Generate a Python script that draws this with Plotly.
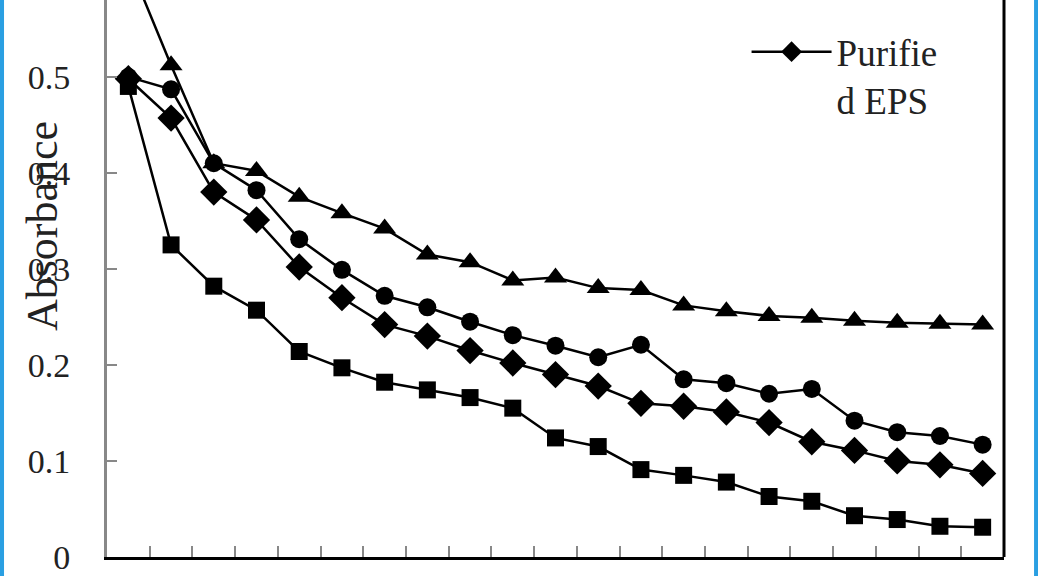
import plotly.graph_objects as go

categories = [str(i) for i in range(1, 22)]

circle_vals = [0.500, 0.487, 0.410, 0.382, 0.331, 0.299, 0.272, 0.260, 0.245, 0.231, 0.220, 0.208, 0.221, 0.185, 0.181, 0.170, 0.175, 0.142, 0.130, 0.126, 0.117]
diamond_vals = [0.498, 0.457, 0.380, 0.351, 0.302, 0.270, 0.242, 0.230, 0.215, 0.202, 0.190, 0.178, 0.160, 0.157, 0.151, 0.140, 0.120, 0.111, 0.100, 0.096, 0.087]
square_vals = [0.490, 0.325, 0.282, 0.257, 0.214, 0.197, 0.182, 0.174, 0.166, 0.155, 0.124, 0.115, 0.091, 0.085, 0.078, 0.063, 0.058, 0.043, 0.039, 0.032, 0.031]
triangle_vals = [0.620, 0.512, 0.410, 0.402, 0.375, 0.358, 0.342, 0.315, 0.307, 0.288, 0.291, 0.280, 0.278, 0.262, 0.256, 0.251, 0.249, 0.246, 0.244, 0.243, 0.242]

y_ticks = [0, 0.1, 0.2, 0.3, 0.4, 0.5]
y_tick_text = ["0", "0.1", "0.2", "0.3", "0.4", "0.5"]

SERIF = "Liberation Serif, Times New Roman, serif"

fig = go.Figure()

def add(vals, symbol, size, name, show):
    fig.add_trace(go.Scatter(
        x=categories, y=vals, mode="lines+markers", name=name, showlegend=show,
        line=dict(color="black", width=2.5),
        marker=dict(symbol=symbol, size=size, color="black"),
    ))

add(triangle_vals, "triangle-up", 20, "Crude EPS", False)
add(square_vals, "square", 17, "Control", False)
add(circle_vals, "circle", 18, "EPS", False)
add(diamond_vals, "diamond", 21, "Purifie<br>d EPS", True)

# right black frame of the plot area
fig.add_shape(type="line", xref="paper", yref="paper", x0=1, x1=1, y0=0, y1=1.1,
              line=dict(color="black", width=3), layer="above")
# blue outer frame lines (page border of the original figure)
fig.add_shape(type="rect", xref="paper", yref="paper", x0=-0.1193, x1=-0.1148, y0=-0.05, y1=1.05,
              line=dict(width=0), fillcolor="#2A9FE2", layer="above")
fig.add_shape(type="rect", xref="paper", yref="paper", x0=1.0335, x1=1.0390, y0=-0.05, y1=1.05,
              line=dict(width=0), fillcolor="#2A9FE2", layer="above")

fig.add_annotation(text="Absorbance", xref="paper", yref="paper",
                   x=-0.0725, y=0.594, xanchor="center", yanchor="middle",
                   textangle=-90, showarrow=False,
                   font=dict(family=SERIF, size=44, color="#222"))

fig.update_layout(
    width=1038, height=576,
    margin=dict(l=107, r=34, t=0, b=19, autoexpand=False),
    paper_bgcolor="white", plot_bgcolor="white",
    showlegend=True,
    legend=dict(x=0.713, y=0.962, xanchor="left", yanchor="top", valign="top",
                font=dict(family=SERIF, size=37, color="#222"),
                bgcolor="rgba(0,0,0,0)", itemwidth=80),
    xaxis=dict(type="category", range=[-0.5, 20.5], showgrid=False, zeroline=False,
               showline=True, linecolor="black", linewidth=3,
               ticks="inside", tickson="boundaries", ticklen=11, tickwidth=1.5, tickcolor="#888",
               showticklabels=False),
    yaxis=dict(range=[0, 0.58], showgrid=False, zeroline=False,
               showline=True, linecolor="#888", linewidth=3,
               ticks="inside", ticklen=10, tickwidth=1.5, tickcolor="#888",
               tickvals=y_ticks, ticktext=y_tick_text, ticklabelstandoff=27,
               tickfont=dict(family=SERIF, size=34, color="#222")),
)

fig.write_html("out.html", config={"displayModeBar": False},
               post_script="document.body.style.margin='0';document.body.style.overflow='hidden';")
